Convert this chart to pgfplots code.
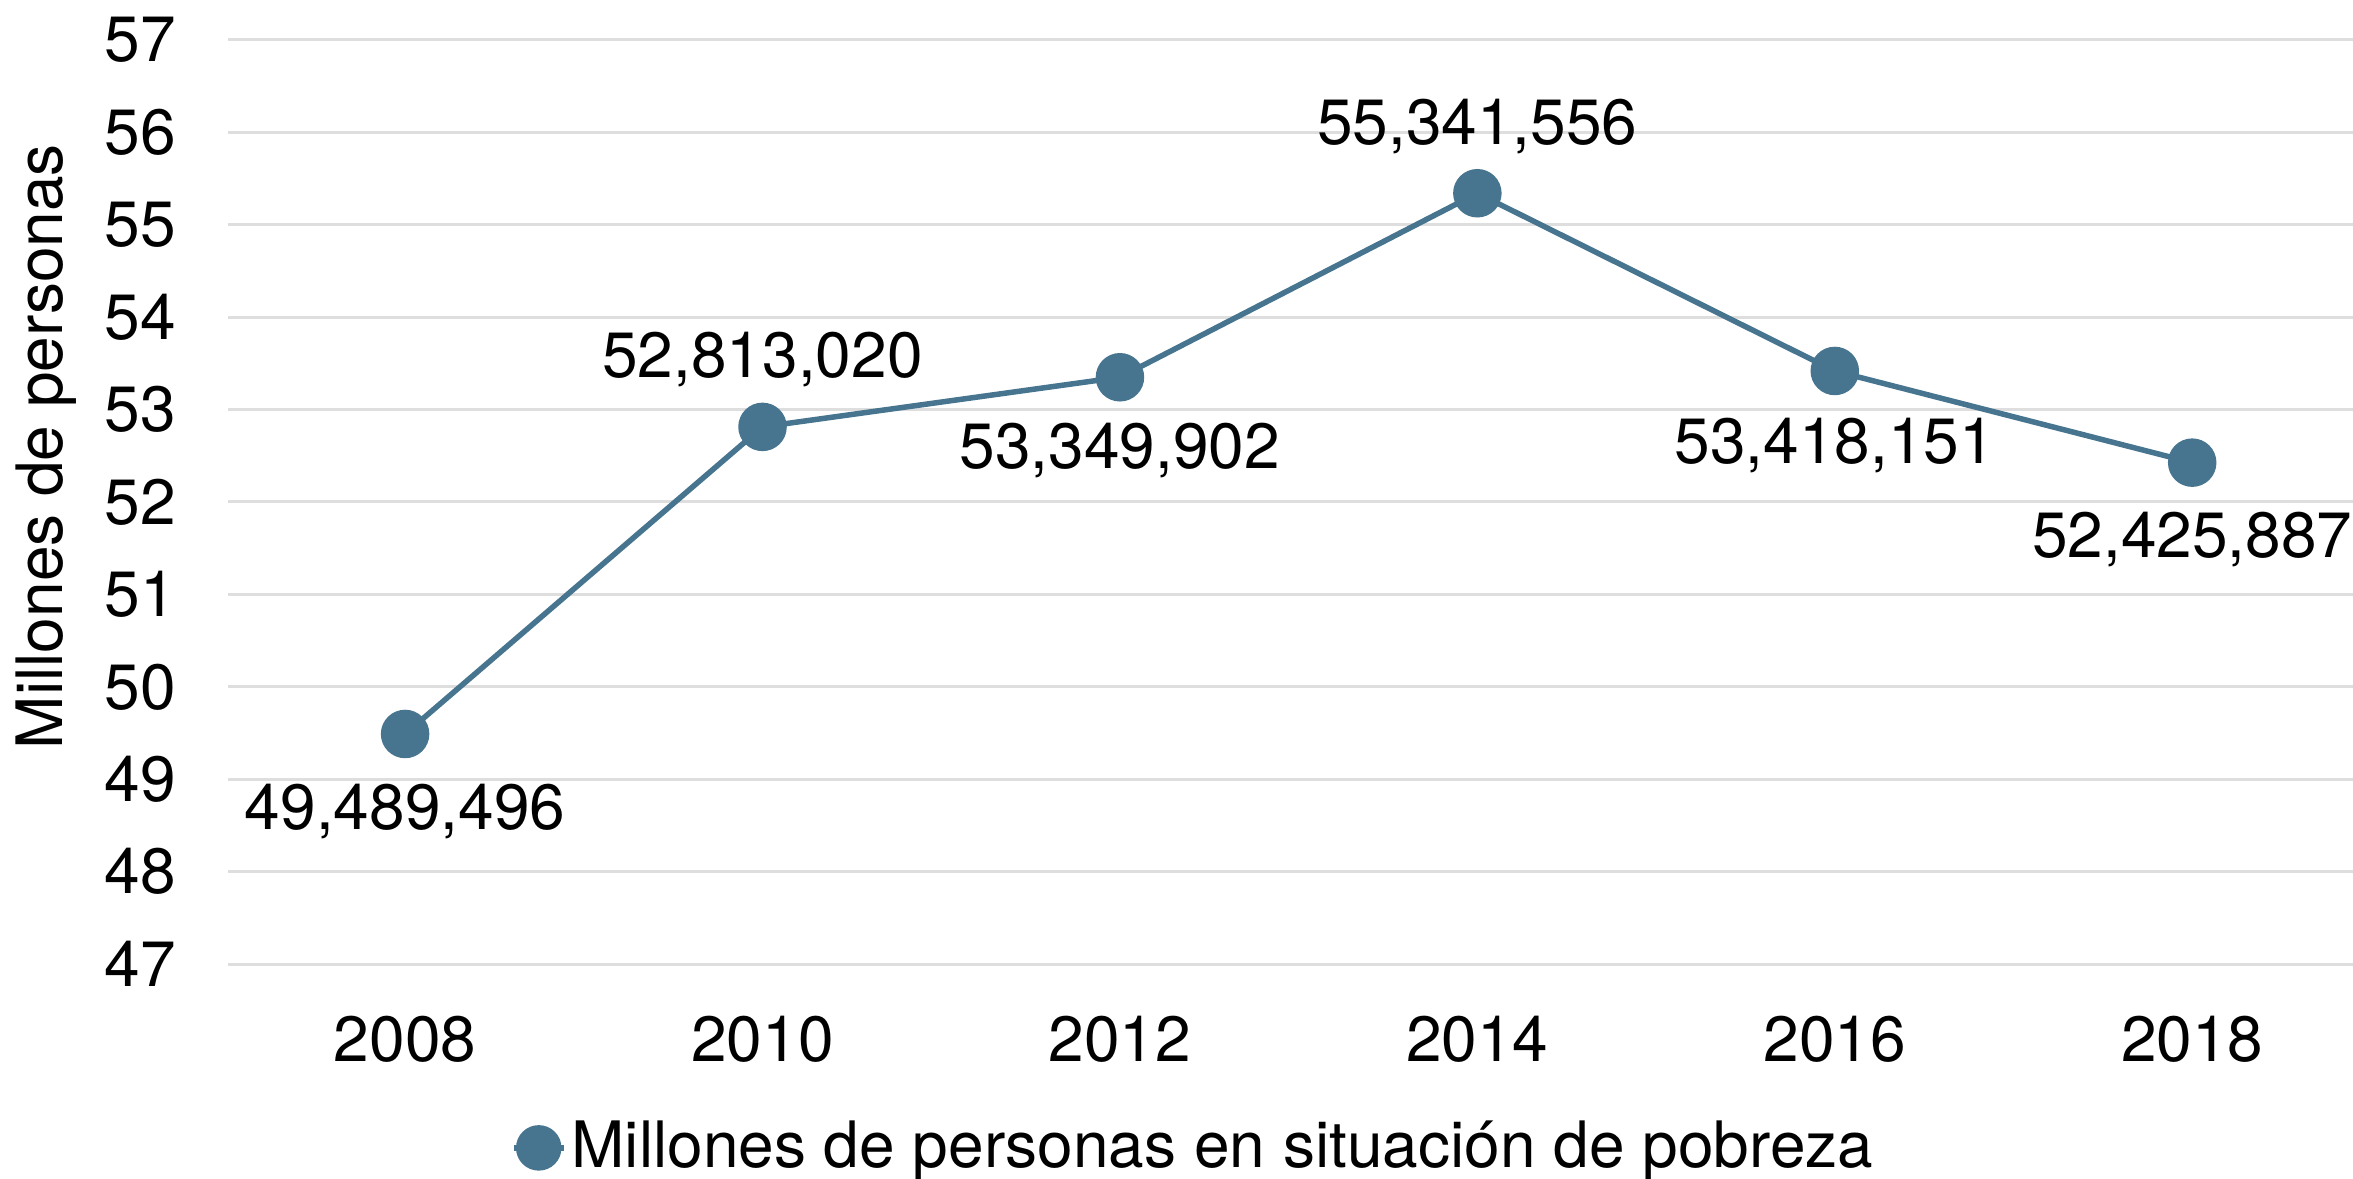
\documentclass[border=0pt]{standalone}
\usepackage{pgfplots}
\usepackage{pgfplotstable}
\pgfplotsset{compat=1.18}
\usepackage{fontspec}
\setmainfont{TeX Gyre Heros}
\definecolor{linecol}{HTML}{47758F}
\definecolor{gridcol}{HTML}{DEDEDE}
\pgfplotstableread{
x y lab off
0 49.489496 49,489,496 -15.6
1 52.813020 52,813,020 13.4
2 53.349902 53,349,902 -14.6
3 55.341556 55,341,556 13.4
4 53.418151 53,418,151 -15.0
5 52.425887 52,425,887 -15.4
}\datatable
\begin{document}
\begin{tikzpicture}
\useasboundingbox (0,0) rectangle (470.6pt,235.6pt);
\begin{axis}[
  at={(45.6pt,42.8pt)}, anchor=south west,
  scale only axis, width=425pt, height=184.8pt,
  xmin=-0.4955, xmax=5.45, ymin=47, ymax=57,
  xtick={0,1,2,3,4,5},
  xticklabels={2008,2010,2012,2014,2016,2018},
  ytick={47,48,...,57},
  axis line style={draw=none},
  major tick length=0pt,
  ymajorgrids, grid style={color=gridcol, line width=0.6pt},
  /pgf/number format/assume math mode=true,
  tick label style={font=\fontsize{12.8}{15}\selectfont, text=black},
  yticklabel style={anchor=east, inner sep=0pt, xshift=-10.2pt},
  xticklabel style={anchor=north, inner sep=0pt, yshift=-10.2pt},
  ylabel={Millones de personas},
  ylabel style={at={(rel axis cs:-0.0854,0.56)}, anchor=center, font=\fontsize{12.8}{15}\selectfont},
  clip=false,
  legend style={draw=none, fill=none, at={(rel axis cs:0.1327,-0.199)}, anchor=west, inner sep=0pt, nodes={inner sep=1pt}, font=\fontsize{12.8}{15}\selectfont, /tikz/every even column/.append style={column sep=0pt}},
  legend cell align=left,
  legend image code/.code={
    \draw[linecol, line width=1.1pt] (0pt,0pt) -- (10pt,0pt);
    \fill[linecol] (5pt,0pt) circle (4pt);
  },
  nodes near coords,
  point meta=explicit symbolic,
  visualization depends on={\thisrow{off} \as \off},
  every node near coord/.append style={anchor=center, yshift=\off pt, font=\fontsize{12.8}{15}\selectfont, text=black, inner sep=0pt},
]
\addplot[color=linecol, line width=1.1pt, mark=*, mark size=4.3pt, mark options={fill=linecol, draw=linecol}]
  table[x=x, y=y, meta=lab] {\datatable};
\addlegendentry{Millones de personas en situación de pobreza}
\end{axis}
\end{tikzpicture}
\end{document}
